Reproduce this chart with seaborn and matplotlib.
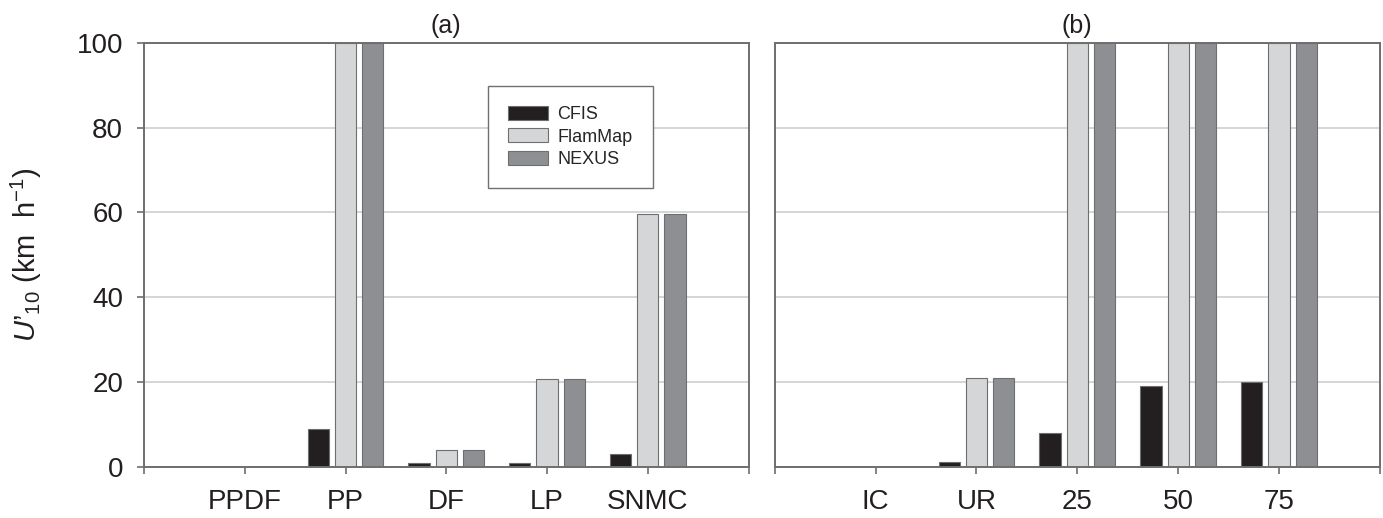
import matplotlib
matplotlib.use("Agg")
import matplotlib.pyplot as plt
import numpy as np
import pandas as pd
import seaborn as sns

# data
models = ["CFIS", "FlamMap", "NEXUS"]
colors = ["#231f20", "#d5d6d8", "#8e8f93"]

cats_a = ["PPDF", "PP", "DF", "LP", "SNMC"]
cfis_a = [0, 8.8, 0.9, 0.9, 3.0]
flammap_a = [0, 100, 4.0, 20.6, 59.6]
nexus_a = [0, 100, 4.0, 20.6, 59.6]

cats_b = ["IC", "UR", "25", "50", "75"]
cfis_b = [0, 1.0, 8.0, 19.0, 20.0]
flammap_b = [0, 21.0, 100, 100, 100]
nexus_b = [0, 21.0, 100, 100, 100]

y_ticks = [0, 20, 40, 60, 80, 100]


def long_frame(cats, *series):
    rows = []
    for name, vals in zip(models, series):
        for c, v in zip(cats, vals):
            rows.append({"cat": c, "model": name, "val": v})
    return pd.DataFrame(rows)


sns.set_theme(style="white")
plt.rcParams["font.family"] = ["Liberation Sans", "DejaVu Sans"]
plt.rcParams["mathtext.fontset"] = "custom"
plt.rcParams["mathtext.rm"] = "Liberation Sans"
plt.rcParams["mathtext.it"] = "Liberation Sans:italic"

spine_col = "#6e6e6e"
text_col = "#231f20"

fig = plt.figure(figsize=(13.83, 5.18), dpi=100)
ax_a = fig.add_axes([0.1041, 0.0990, 0.4372, 0.818])
ax_b = fig.add_axes([0.5602, 0.0990, 0.4375, 0.818])

panels = [(ax_a, cats_a, (cfis_a, flammap_a, nexus_a), "(a)"),
          (ax_b, cats_b, (cfis_b, flammap_b, nexus_b), "(b)")]

for ax, cats, series, title in panels:
    df = long_frame(cats, *series)
    sns.barplot(data=df, x="cat", y="val", hue="model", order=cats,
                hue_order=models, palette=colors, saturation=1,
                width=0.81, gap=0.22, edgecolor="#6d6e70", linewidth=0.8,
                errorbar=None, ax=ax, legend=(ax is ax_a))
    ax.set_xlim(-1, 5)
    ax.set_ylim(0, 100)
    ax.set_xticks(range(-1, 6), [""] + cats + [""])
    ax.set_yticks(y_ticks)
    ax.set_axisbelow(True)
    ax.yaxis.grid(True, color="#d2d2d2", linewidth=1.3)
    ax.xaxis.grid(False)
    for sp in ax.spines.values():
        sp.set_visible(True)
        sp.set_color(spine_col)
        sp.set_linewidth(1.4)
    ax.tick_params(axis="x", bottom=True, direction="out", length=5, width=1.2,
                   color=spine_col, labelsize=20, pad=11, labelcolor=text_col)
    ax.set_xlabel("")
    ax.set_ylabel("")
    ax.set_title(title, fontsize=18, pad=7, color=text_col)

ax_a.tick_params(axis="y", left=True, direction="out", length=5, width=1.2,
                 color=spine_col, labelsize=20, pad=10, labelcolor=text_col)
ax_b.tick_params(axis="y", left=False, labelleft=False)

ax_a.set_ylabel(r"$\mathit{U}$’$_{10}$ (km  h$^{-1}$)", fontsize=21, color=text_col)
ax_a.yaxis.set_label_coords(-0.165, 0.5)

handles, labels = ax_a.get_legend_handles_labels()
leg = ax_a.legend(handles, labels, loc="upper left", bbox_to_anchor=(0.569, 0.8985),
                  fontsize=13, frameon=True, fancybox=False, framealpha=1,
                  edgecolor="#707070", borderpad=1.1, labelspacing=0.3,
                  handlelength=2.2, handleheight=0.8, handletextpad=0.55,
                  borderaxespad=0)
leg.get_frame().set_linewidth(1.0)

fig.savefig("out.png", dpi=100)
